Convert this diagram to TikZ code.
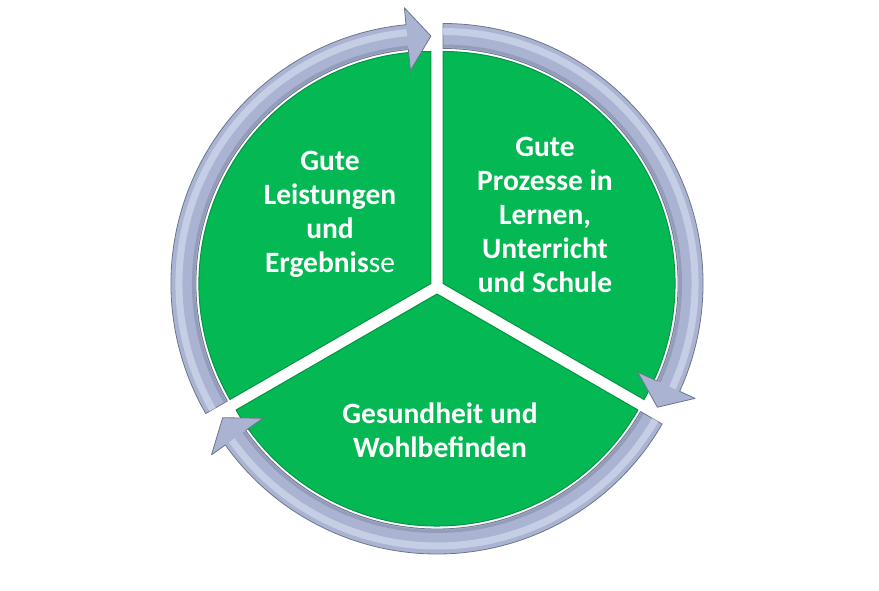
\documentclass[tikz,border=0pt]{standalone}
\usepackage{fontspec}
\setmainfont{Carlito}
\definecolor{pgreen}{RGB}{4,184,84}
\definecolor{pgreendark}{RGB}{0,150,66}
\definecolor{ringblue}{RGB}{170,180,210}
\definecolor{ringedge}{RGB}{110,116,140}
\definecolor{ringlight}{RGB}{206,213,234}
\definecolor{ringdark}{RGB}{132,140,168}
\newcommand\cyclearrow[3]{%
  \begin{scope}[shift={(#1)}]
    \draw[ringarrow] (#2:260) arc[start angle=#2,end angle=#3+5.5,radius=260]
      -- (#3+5.5:277) -- (#3:247.5) -- (#3+5.5:214) -- (#3+5.5:235)
      arc[start angle=#3+5.5,end angle=#2,radius=235] -- cycle;
    \draw[ringhi] (#2:252) arc[start angle=#2,end angle=#3+5.5,radius=252];
    \draw[ringsh] (#2:237.5) arc[start angle=#2,end angle=#3+5.5,radius=237.5];
  \end{scope}}
\begin{document}
\begin{tikzpicture}[x=1pt,y=1pt,
  sector/.style={fill=pgreen, draw=pgreendark, line width=1pt, line join=round},
  ringarrow/.style={fill=ringblue, draw=ringedge, line width=0.8pt, line join=round},
  ringhi/.style={draw=ringlight, line width=7pt, opacity=0.8},
  ringsh/.style={draw=ringdark, line width=3pt, opacity=0.6},
  lbl/.style={text=white, font=\fontsize{29.5}{34}\selectfont\bfseries, align=center}]
\useasboundingbox (-437,-304) rectangle (442,287);
\coordinate (VL) at (150:7);
\coordinate (VR) at (30:7);
\coordinate (VB) at (270:7);
% sectors
\draw[sector] (VL) -- ++(210:232) arc[start angle=210,end angle=90,radius=232] -- cycle;
\draw[sector] (VR) -- ++(90:232) arc[start angle=90,end angle=-30,radius=232] -- cycle;
\draw[sector] (VB) -- ++(330:232) arc[start angle=330,end angle=210,radius=232] -- cycle;
% arrows
\cyclearrow{VL}{210}{90}
\cyclearrow{VR}{90}{-30}
\cyclearrow{VB}{330}{210}
% labels
\node[lbl] (t1) at (-107,73) {Gute\\Leistungen\\und\\Ergebnis{\mdseries se}};
\node[lbl] (t2) at (108,72) {Gute\\Prozesse in\\Lernen,\\Unterricht\\und Schule};
\node[lbl] (t3) at (3,-143) {Gesundheit und\\Wohlbefinden};
\end{tikzpicture}
\end{document}
